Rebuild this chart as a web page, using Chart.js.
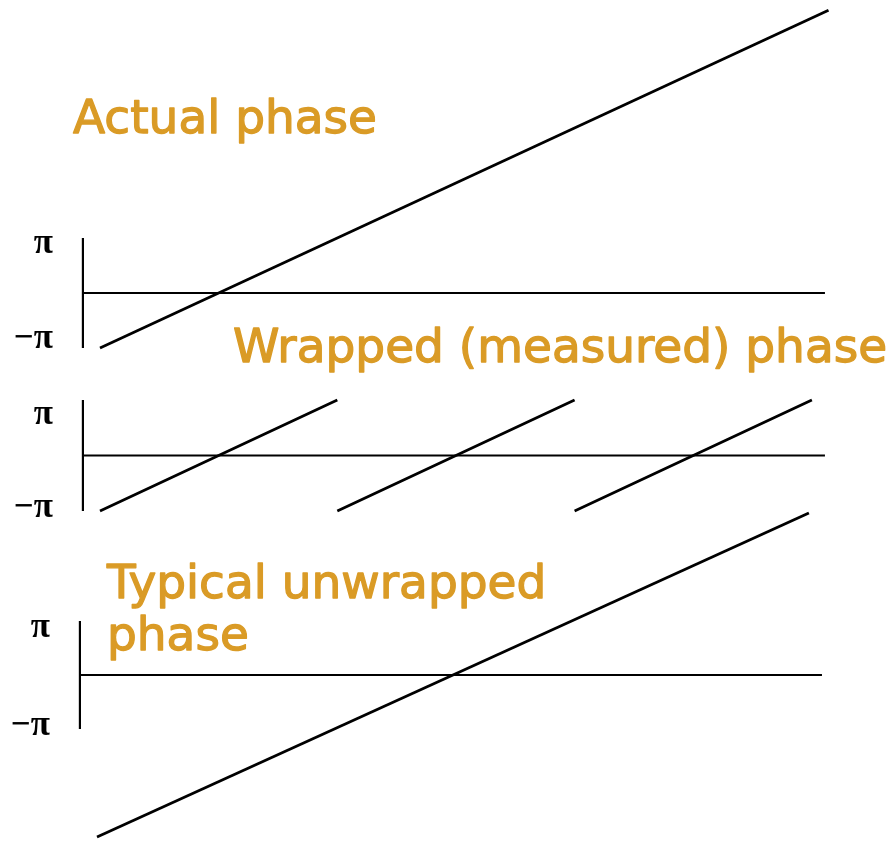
<!DOCTYPE html>
<html>
<head>
<meta charset="utf-8">
<script src="https://cdn.jsdelivr.net/npm/chart.js@4/dist/chart.umd.min.js"></script>
<style>
  html, body { margin: 0; padding: 0; background: #fff; }
  #wrap { width: 895px; height: 841px; position: relative; }
</style>
</head>
<body>
<div id="wrap"><canvas id="phaseChart"></canvas></div>
<script>
// frequency in units of one wrap period, phase in units of pi
const actualFreq = [0, 3.07];
const actualPhase = [-1, 5.14];

const wrappedFreq = [0, 1, 1, 1, 2, 2, 2, 3];
const wrappedPhase = [-1, 1, null, -1, 1, null, -1, 1];

const unwrappedFreq = [0, 3];
const unwrappedPhase = [-3, 3];

const tickValues = [1, -1];
const tickLabels = ['π', '−π'];

const panelTitles = [['Actual phase'], ['Wrapped (measured) phase'], ['Typical unwrapped', 'phase']];

// axis extents (frequency units)
const axisFreq = -0.072;
const zeroLineEnd = 3.055;

const GOLD = 'rgb(218,155,38)';

function toPoints(xs, ys) {
  return xs.map((x, i) => ({ x: x, y: ys[i] }));
}

// layout of the three stacked panels
const panels = [
  { xAxis: 'x', yAxis: 'y1', title: panelTitles[0], tx: 73, ty: 133, piNudge: 15, minusNudge: 0 },
  { xAxis: 'x', yAxis: 'y2', title: panelTitles[1], tx: 233, ty: 362, piNudge: 24, minusNudge: 6 },
  { xAxis: 'x3', yAxis: 'y3', title: panelTitles[2], tx: 107, ty: 598, piNudge: 16, minusNudge: 6 }
];

const phaseAxes = {
  id: 'phaseAxes',
  beforeDatasetsDraw(chart) {
    const ctx = chart.ctx;
    panels.forEach(p => {
      const xs = chart.scales[p.xAxis];
      const ys = chart.scales[p.yAxis];
      const x0 = xs.getPixelForValue(axisFreq);
      const x1 = xs.getPixelForValue(zeroLineEnd);
      ctx.save();
      ctx.strokeStyle = '#000';
      ctx.lineWidth = 2.2;
      ctx.beginPath();
      ctx.moveTo(x0, ys.getPixelForValue(1));
      ctx.lineTo(x0, ys.getPixelForValue(-1));
      ctx.stroke();
      ctx.lineWidth = 2;
      ctx.beginPath();
      ctx.moveTo(x0, ys.getPixelForValue(0));
      ctx.lineTo(x1, ys.getPixelForValue(0));
      ctx.stroke();

      ctx.fillStyle = '#000';
      ctx.font = 'bold 35px "Liberation Serif", "DejaVu Serif", serif';
      ctx.textAlign = 'right';
      ctx.textBaseline = 'alphabetic';
      tickValues.forEach((v, i) => {
        const nudge = v > 0 ? p.piNudge : p.minusNudge;
        ctx.fillText(tickLabels[i], x0 - 30, ys.getPixelForValue(v) + nudge);
      });
      ctx.restore();
    });
  },
  afterDraw(chart) {
    const ctx = chart.ctx;
    ctx.save();
    ctx.fillStyle = GOLD;
    ctx.strokeStyle = GOLD;
    ctx.lineWidth = 1.3;
    ctx.lineJoin = 'round';
    ctx.font = '47px "DejaVu Sans", Verdana, sans-serif';
    ctx.textAlign = 'left';
    ctx.textBaseline = 'alphabetic';
    panels.forEach(p => {
      p.title.forEach((line, i) => {
        ctx.fillText(line, p.tx, p.ty + i * 52);
        ctx.strokeText(line, p.tx, p.ty + i * 52);
      });
    });
    ctx.restore();
  }
};

const lineStyle = {
  borderColor: '#000',
  borderWidth: 2.8,
  pointRadius: 0,
  fill: false,
  tension: 0,
  spanGaps: false,
  clip: false
};

new Chart(document.getElementById('phaseChart').getContext('2d'), {
  type: 'line',
  data: {
    datasets: [
      Object.assign({ label: 'Actual phase', data: toPoints(actualFreq, actualPhase), xAxisID: 'x', yAxisID: 'y1' }, lineStyle),
      Object.assign({ label: 'Wrapped phase', data: toPoints(wrappedFreq, wrappedPhase), xAxisID: 'x', yAxisID: 'y2' }, lineStyle),
      Object.assign({ label: 'Unwrapped phase', data: toPoints(unwrappedFreq, unwrappedPhase), xAxisID: 'x3', yAxisID: 'y3' }, lineStyle)
    ]
  },
  options: {
    responsive: true,
    maintainAspectRatio: false,
    animation: false,
    events: [],
    layout: { padding: 0 },
    plugins: {
      legend: { display: false },
      tooltip: { enabled: false }
    },
    scales: {
      x: { type: 'linear', display: false, min: -0.4214, max: 3.3502 },
      x3: { type: 'linear', display: false, min: -0.4088, max: 3.3628 },
      y1: { type: 'linear', display: false, min: -9.964, max: 5.327 },
      y2: { type: 'linear', display: false, min: -6.946, max: 8.207 },
      y3: { type: 'linear', display: false, min: -3.074, max: 12.5 }
    }
  },
  plugins: [phaseAxes]
});
</script>
</body>
</html>
